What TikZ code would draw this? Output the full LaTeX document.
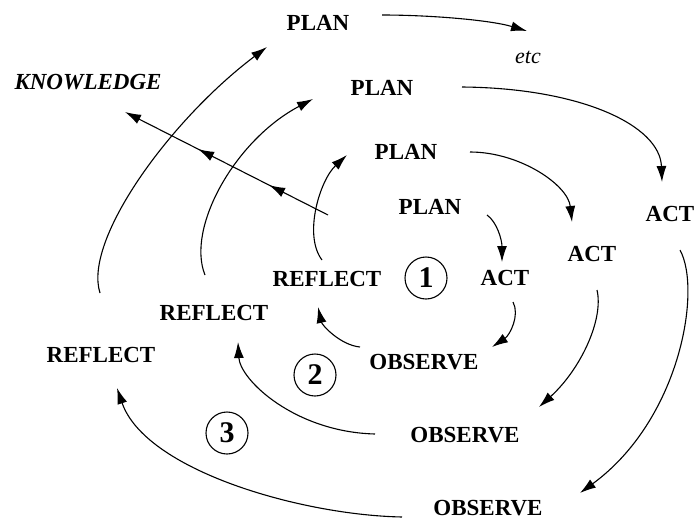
\documentclass[tikz,border=0pt]{standalone}
\usepackage{fontspec}
\setmainfont{Liberation Serif}
\usetikzlibrary{arrows.meta,decorations.markings}
\tikzset{
  lbl/.style={font=\bfseries\fontsize{23}{27}\selectfont, inner sep=0pt},
  klbl/.style={font=\bfseries\itshape\fontsize{23}{27}\selectfont, inner sep=0pt},
  elbl/.style={font=\itshape\fontsize{22}{26}\selectfont, inner sep=0pt},
  numc/.style={draw, circle, line width=1.1pt, minimum size=42pt, inner sep=0pt,
    font=\bfseries\fontsize{30}{34}\selectfont},
  conn/.style={line width=1.1pt, -{Latex[length=16pt,width=10pt]}},
  kconn/.style={line width=1.1pt, -{Latex[length=16pt,width=10pt]},
    decoration={markings,
      mark=at position 0.29 with {\arrow{Latex[length=16pt,width=10pt]}},
      mark=at position 0.64 with {\arrow{Latex[length=16pt,width=10pt]}}},
    postaction={decorate}}
}
\begin{document}
\begin{tikzpicture}[x=1pt,y=-1pt]
\useasboundingbox (0,0) rectangle (694,520);
% nodes
\node[lbl] (plan1) at (318,23) {PLAN};
\node[lbl] (plan2) at (382,88) {PLAN};
\node[lbl] (plan3) at (406,152) {PLAN};
\node[lbl] (plan4) at (430,207) {PLAN};
\node[lbl] (act1) at (505,278) {ACT};
\node[lbl] (act2) at (592,254) {ACT};
\node[lbl] (act3) at (670,214) {ACT};
\node[lbl] (obs1) at (424,362) {OBSERVE};
\node[lbl] (obs2) at (465,435) {OBSERVE};
\node[lbl] (obs3) at (488,508) {OBSERVE};
\node[lbl] (ref1) at (327,279) {REFLECT};
\node[lbl] (ref2) at (214,313) {REFLECT};
\node[lbl] (ref3) at (101,355) {REFLECT};
\node[klbl] (know) at (88,82) {KNOWLEDGE};
\node[elbl] (etc) at (528,57) {etc};
\node[numc] (c1) at (426,278) {1};
\node[numc] (c2) at (315,375) {2};
\node[numc] (c3) at (227,433) {3};
\coordinate (k0) at (328,215);
% PLAN -> ACT / etc
\draw[conn] ([shift={(64,-8)}]plan1.center) .. controls (430,15) and (490,20) .. ([shift={(-1,-26)}]etc.center);
\draw[conn] ([shift={(80,-1)}]plan2.center) .. controls (580,88) and (660,125) .. ([shift={(-8,-32)}]act3.center);
\draw[conn] ([shift={(64,0)}]plan3.center) .. controls (520,152) and (568,185) .. ([shift={(-20,-32)}]act2.center);
\draw[conn] ([shift={(57,8)}]plan4.center) .. controls (497,222) and (502,240) .. ([shift={(-3,-16)}]act1.center);
% ACT -> OBSERVE
\draw[conn] ([shift={(8,24)}]act1.center) .. controls (520,315) and (510,335) .. ([shift={(68,-15)}]obs1.center);
\draw[conn] ([shift={(5,36)}]act2.center) .. controls (604,320) and (580,370) .. ([shift={(74,-28)}]obs2.center);
\draw[conn] ([shift={(10,36)}]act3.center) .. controls (702,290) and (680,420) .. ([shift={(92,-15)}]obs3.center);
% OBSERVE -> REFLECT
\draw[conn] ([shift={(-64,-15)}]obs1.center) .. controls (340,345) and (322,325) .. ([shift={(-9,28)}]ref1.center);
\draw[conn] ([shift={(-90,-1)}]obs2.center) .. controls (295,432) and (240,380) .. ([shift={(24,29)}]ref2.center);
\draw[conn] ([shift={(-86,9)}]obs3.center) .. controls (300,515) and (145,470) .. ([shift={(16,33)}]ref3.center);
% REFLECT -> PLAN
\draw[conn] ([shift={(-5,-19)}]ref1.center) .. controls (303,235) and (320,180) .. ([shift={(-59,3)}]plan3.center);
\draw[conn] ([shift={(-9,-38)}]ref2.center) .. controls (186,228) and (235,140) .. ([shift={(-69,11)}]plan2.center);
\draw[conn] ([shift={(-1,-62)}]ref3.center) .. controls (83,240) and (170,120) .. ([shift={(-51,24)}]plan1.center);
% knowledge
\draw[kconn] (k0) -- ([shift={(37,30)}]know.center);
\end{tikzpicture}
\end{document}
